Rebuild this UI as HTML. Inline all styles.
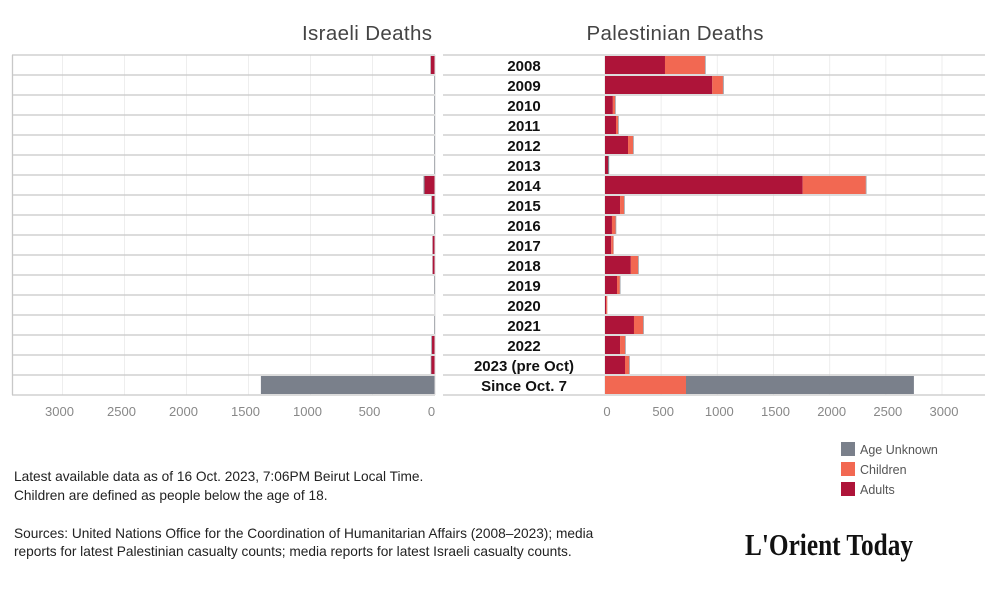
<!DOCTYPE html>
<html><head><meta charset="utf-8"><style>
body{margin:0;background:#fff;width:999px;height:599px;overflow:hidden;font-family:"Liberation Sans",sans-serif}
svg{display:block}
</style></head><body>
<svg id="c" width="999" height="599">
<text x="367" y="40" text-anchor="middle" font-size="20.5" fill="#444" textLength="130">Israeli Deaths</text>
<text x="675" y="40" text-anchor="middle" font-size="20.5" fill="#444" textLength="177">Palestinian Deaths</text>
<g id="grid"></g><g id="bars"></g><g id="labels"></g>
<g font-size="12.5" fill="#555">
<rect x="841" y="442" width="14" height="14" fill="#7a808b"/>
<text x="860" y="454">Age Unknown</text>
<rect x="841" y="462" width="14" height="14" fill="#f26852"/>
<text x="860" y="474">Children</text>
<rect x="841" y="482" width="14" height="14" fill="#ae1439"/>
<text x="860" y="494">Adults</text>
</g>
<g font-size="13.7" fill="#222">
<text x="14" y="481">Latest available data as of 16 Oct. 2023, 7:06PM Beirut Local Time.</text>
<text x="14" y="500">Children are defined as people below the age of 18.</text>
<text x="14" y="538">Sources: United Nations Office for the Coordination of Humanitarian Affairs (2008–2023); media</text>
<text x="14" y="556">reports for latest Palestinian casualty counts; media reports for latest Israeli casualty counts.</text>
</g>
<text x="745" y="555" font-family="Liberation Serif,serif" font-weight="bold" font-size="31" fill="#111" textLength="168" lengthAdjust="spacingAndGlyphs">L'Orient Today</text>
</svg>
<script>
const years=["2008","2009","2010","2011","2012","2013","2014","2015","2016","2017","2018","2019","2020","2021","2022","2023 (pre Oct)","Since Oct. 7"];
const palAdults=[534,955,70,98,205,27,1760,134,62,55,230,107,10,258,134,178,0];
const palChildren=[356,95,20,19,45,0,562,36,33,20,65,25,10,82,45,37,721];
const palUnknown=[5,6,5,5,5,10,5,5,5,2,5,5,1,5,5,5,2029];
const isrAdults=[30,0,0,0,0,0,80,20,0,15,15,0,0,0,20,25,0];
const isrChildren=[0,0,0,0,0,0,0,0,0,0,0,0,0,0,0,0,0];
const isrUnknown=[3,4,4,4,4,4,8,5,4,2,2,4,1,4,5,5,1400];
const ticks=[0,500,1000,1500,2000,2500,3000];
const NS="http://www.w3.org/2000/svg";
function el(t,a,p){const e=document.createElementNS(NS,t);for(const k in a)e.setAttribute(k,a[k]);document.getElementById(p).appendChild(e);return e;}
const top0=55,rowH=20;
const isrX=v=>434.5-v*0.124;
const palX=v=>605+v*0.11233;
const yRow=i=>top0+i*rowH;
ticks.forEach(t=>{
 if(t>0){let g=el('line',{x1:isrX(t),x2:isrX(t),y1:top0,y2:top0+years.length*rowH,stroke:'#eee'},'grid');
 
 g=el('line',{x1:palX(t),x2:palX(t),y1:top0,y2:top0+years.length*rowH,stroke:'#eee'},'grid');
 }
 let a=el('text',{x:isrX(t)-3,y:416,'text-anchor':'middle','font-size':13,fill:'#888'},'labels');a.textContent=t;
 
 a=el('text',{x:palX(t)+2,y:416,'text-anchor':'middle','font-size':13,fill:'#888'},'labels');a.textContent=t;
 
});
for(let i=0;i<=years.length;i++){
 let l=el('line',{x1:12,x2:435,y1:yRow(i),y2:yRow(i),stroke:'#c8c8c8','stroke-width':1.3},'grid');
 
 l=el('line',{x1:443,x2:985,y1:yRow(i),y2:yRow(i),stroke:'#c8c8c8','stroke-width':1.3},'grid');
 
}
let b=el('line',{x1:12.5,x2:12.5,y1:top0,y2:yRow(years.length),stroke:'#c8c8c8','stroke-width':1.3},'grid');

b=el('line',{x1:435,x2:435,y1:top0,y2:yRow(years.length),stroke:'#ddd'},'grid');

b=el('line',{x1:605,x2:605,y1:top0,y2:yRow(years.length),stroke:'#ddd'},'grid');

years.forEach((y,i)=>{
 const ry=yRow(i)+1,h=rowH-2;
 let s=0;
 [[palAdults,'#ae1439','adults'],[palChildren,'#f26852','children'],[palUnknown,'#7a808b','unknown']].forEach(([arr,c,n])=>{
  const v=arr[i];if(v>0){const r=el('rect',{x:palX(s),y:ry,width:palX(s+v)-palX(s),height:h,fill:c},'bars');
  }s+=v;});
 s=0;
 [[isrAdults,'#ae1439','adults'],[isrChildren,'#f26852','children'],[isrUnknown,'#7a808b','unknown']].forEach(([arr,c,n])=>{
  const v=arr[i];if(v>0){const r=el('rect',{x:isrX(s+v),y:ry,width:isrX(s)-isrX(s+v),height:h,fill:c},'bars');
  }s+=v;});
 const t=el('text',{x:524,y:yRow(i)+16,'text-anchor':'middle','font-size':15,'font-weight':'bold',fill:'#111'},'labels');
 t.textContent=y;
 
 
});
</script>
</body></html>
